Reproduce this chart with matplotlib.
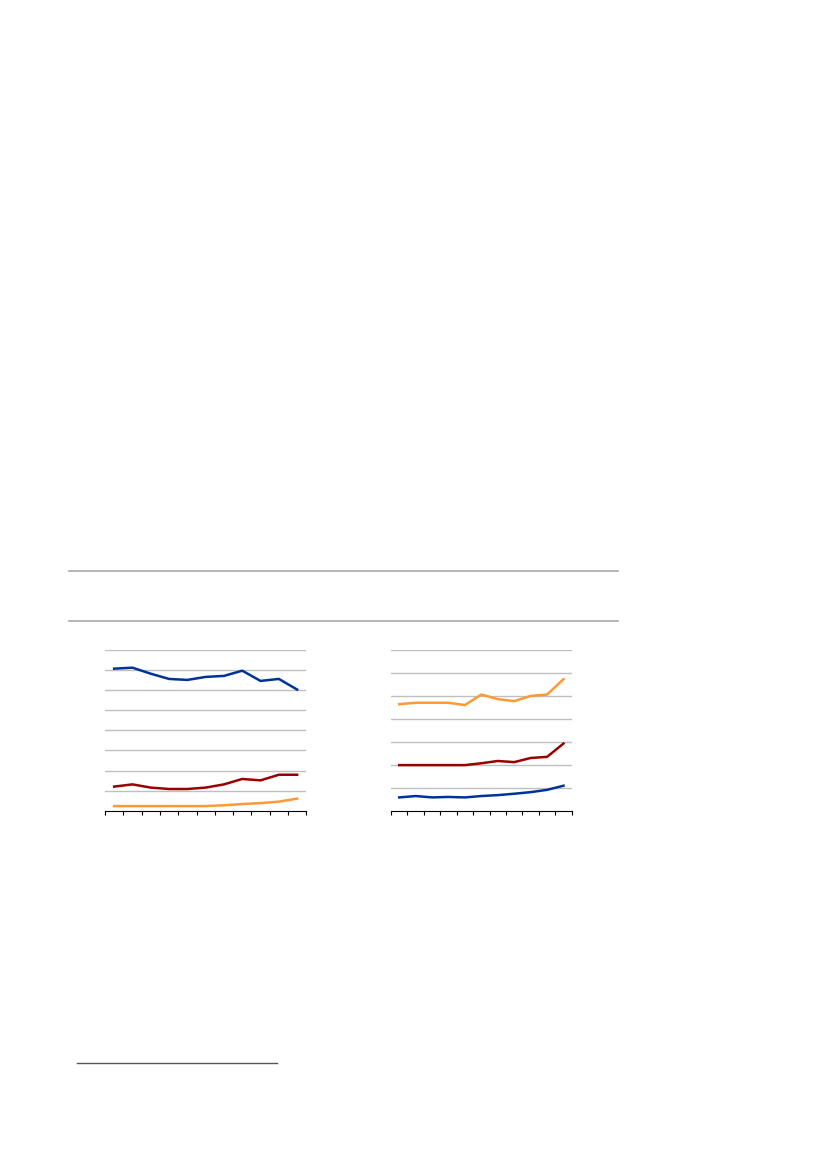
import matplotlib
matplotlib.use("Agg")
import matplotlib.pyplot as plt
from matplotlib.lines import Line2D
import numpy as np

categories = list(range(11))

left_blue = [7.07, 7.12, 6.82, 6.56, 6.51, 6.66, 6.71, 6.97, 6.46, 6.56, 6.03]
left_red = [1.20, 1.31, 1.15, 1.08, 1.08, 1.15, 1.31, 1.58, 1.51, 1.79, 1.79]
left_orange = [0.23, 0.23, 0.23, 0.23, 0.23, 0.23, 0.27, 0.33, 0.38, 0.45, 0.60]

right_orange = [4.65, 4.71, 4.71, 4.71, 4.61, 5.07, 4.87, 4.78, 5.01, 5.07, 5.74]
right_red = [1.99, 1.99, 1.99, 1.99, 1.99, 2.07, 2.17, 2.12, 2.30, 2.35, 2.93]
right_blue = [0.58, 0.64, 0.58, 0.60, 0.58, 0.64, 0.68, 0.74, 0.81, 0.91, 1.09]

BLUE = "#003399"
RED = "#990000"
ORANGE = "#FF9933"
GRID = "#BFBFBF"

fig = plt.figure(figsize=(8.26, 11.69), dpi=100)
W, H = 826, 1169


def make_ax(x0, x1, ytop, ybot, ymax, series):
    ax = fig.add_axes([x0 / W, 1 - ybot / H, (x1 - x0) / W, (ybot - ytop) / H])
    x = np.arange(len(categories))
    for vals, col in series:
        ax.plot(x, vals, color=col, lw=1.8, solid_joinstyle="round", zorder=3)
    ax.set_xlim(-0.5, len(categories) - 0.5)
    ax.set_ylim(0, ymax)
    for v in range(1, ymax + 1):
        ax.axhline(v, color=GRID, lw=1.0, zorder=1)
    for s in ["left", "right", "top"]:
        ax.spines[s].set_visible(False)
    ax.spines["bottom"].set_color("#000000")
    ax.spines["bottom"].set_linewidth(0.8)
    ax.set_xticks(np.arange(-0.5, len(categories), 1.0))
    ax.set_xticklabels([])
    ax.tick_params(axis="x", direction="out", length=3, width=0.8, color="#000000")
    ax.set_yticks([])
    ax.patch.set_alpha(0)
    return ax


make_ax(105, 306.3, 650, 810.7, 8,
        [(left_blue, BLUE), (left_red, RED), (left_orange, ORANGE)])
make_ax(391, 571.7, 650.3, 810.7, 7,
        [(right_orange, ORANGE), (right_red, RED), (right_blue, BLUE)])

# horizontal rules
for y in (571, 621):
    fig.add_artist(Line2D([69.3 / W, 618 / W], [1 - y / H, 1 - y / H],
                          color="#AAAAAA", lw=1.2))
# footnote separator
fig.add_artist(Line2D([77 / W, 276.7 / W], [1 - 1063.3 / H, 1 - 1063.3 / H],
                      color="#555555", lw=1.0))

fig.savefig("out.png", dpi=100)
